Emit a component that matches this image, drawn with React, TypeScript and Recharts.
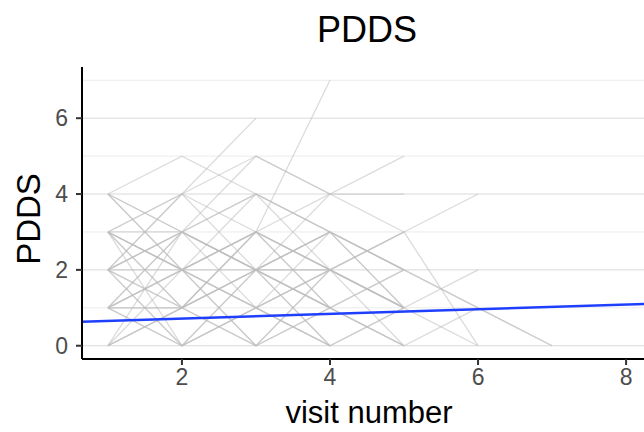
import React from "react";
import { LineChart, Line, XAxis, YAxis, ReferenceLine } from "recharts";

// PDDS score per subject, one entry per visit (visit 1, 2, 3 ...)
const subjects: number[][] = [
  [4, 5, 4, 3, 2],
  [3, 4, 5, 4, 5],
  [3, 2, 3, 7],
  [2, 3, 2, 1, 0],
  [2, 1, 2, 2, 3, 4],
  [1, 2, 3, 2, 1, 2],
  [1, 0, 1, 0, 1],
  [0, 1, 2, 1, 0, 1, 0],
  [0, 2, 1, 0],
  [3, 1, 0, 1],
  [3, 0, 1, 2, 3, 0],
  [2, 0, 1, 0],
  [1, 3, 4, 2],
  [4, 3, 2, 3, 2],
  [2, 4, 6],
  [2, 4, 3, 2, 3],
  [3, 3, 2, 4, 4],
  [1, 1, 2, 2, 1],
  [0, 1, 3, 1, 2],
  [2, 2, 4, 3, 1],
  [3, 2, 0, 1, 2],
  [1, 2, 1, 3, 2, 1],
  [4, 2, 3, 1],
  [2, 3, 1, 2, 0],
  [0, 3, 2, 0, 1],
  [3, 4, 2, 3],
  [2, 1, 3, 4, 3],
  [1, 0, 2, 0],
  [4, 3, 5, 4],
  [3, 1, 2, 1],
  [2, 3, 4, 3, 1],
  [1, 2, 0, 2, 1, 0],
  [0, 1, 0, 2],
  [3, 2, 2, 3, 2, 1, 0],
  [1, 3, 2, 1, 0],
  [2, 0, 2, 3],
  [3, 2, 1, 2, 1],
  [4, 2, 3, 2],
  [1, 1, 3, 2, 1],
];

// linear fit (blue line) read at the two ends of the x range
const fitX = [0.65, 8.35];
const fitY = [0.63, 1.11];

const xTicks = [2, 4, 6, 8];
const yTicks = [0, 2, 4, 6];
const gridMajor = [0, 2, 4, 6];
const gridMinor = [1, 3, 5, 7];

const fitData = fitX.map((x, i) => ({ x, y: fitY[i] }));

const tickStyle = { fill: "#4d4d4d", fontSize: 23, fontFamily: "Liberation Sans, Arial, sans-serif" };

export default function App() {
  return (
    <div
      style={{
        position: "absolute",
        left: 0,
        top: 0,
        width: 644,
        height: 432,
        overflow: "hidden",
        background: "#fff",
        fontFamily: "Liberation Sans, Arial, sans-serif",
      }}
    >
      <div
        style={{
          position: "absolute",
          left: 367,
          top: 12,
          transform: "translateX(-50%)",
          fontSize: 36,
          lineHeight: "36px",
          color: "#000",
          whiteSpace: "nowrap",
        }}
      >
        PDDS
      </div>
      <div
        style={{
          position: "absolute",
          left: 28,
          top: 219,
          transform: "translate(-50%, -50%) rotate(-90deg)",
          fontSize: 33,
          lineHeight: "33px",
          color: "#000",
          whiteSpace: "nowrap",
        }}
      >
        PDDS
      </div>
      <div
        style={{
          position: "absolute",
          left: 369,
          top: 397,
          transform: "translateX(-50%)",
          fontSize: 31,
          lineHeight: "31px",
          color: "#000",
          whiteSpace: "nowrap",
        }}
      >
        visit number
      </div>
      <LineChart
        width={660}
        height={432}
        margin={{ top: 67, right: 8, left: 0, bottom: 0 }}
        style={{ position: "absolute", left: 0, top: 0 }}
      >
        <XAxis
          type="number"
          dataKey="x"
          domain={[0.65, 8.35]}
          ticks={xTicks}
          allowDataOverflow
          height={73}
          tick={tickStyle}
          tickSize={6}
          tickMargin={4}
          axisLine={{ stroke: "#000", strokeWidth: 2 }}
          tickLine={{ stroke: "#333", strokeWidth: 2 }}
        />
        <YAxis
          type="number"
          dataKey="y"
          domain={[-0.35, 7.35]}
          ticks={yTicks}
          allowDataOverflow
          width={82}
          tick={tickStyle}
          tickSize={6}
          tickMargin={8}
          axisLine={{ stroke: "#000", strokeWidth: 2 }}
          tickLine={{ stroke: "#333", strokeWidth: 2 }}
        />
        {gridMinor.map((v) => (
          <ReferenceLine key={"mn" + v} y={v} stroke="#ebebeb" strokeWidth={1} />
        ))}
        {gridMajor.map((v) => (
          <ReferenceLine key={"mj" + v} y={v} stroke="#d9d9d9" strokeWidth={1} />
        ))}
        {subjects.map((vals, i) => (
          <Line
            key={"s" + i}
            data={vals.map((y, j) => ({ x: j + 1, y }))}
            dataKey="y"
            type="linear"
            stroke="#bdbdbd"
            strokeOpacity={0.55}
            strokeWidth={1.3}
            dot={false}
            activeDot={false}
            isAnimationActive={false}
          />
        ))}
        <Line
          data={fitData}
          dataKey="y"
          type="linear"
          stroke="#1f3fff"
          strokeWidth={2.5}
          dot={false}
          activeDot={false}
          isAnimationActive={false}
        />
      </LineChart>
    </div>
  );
}
